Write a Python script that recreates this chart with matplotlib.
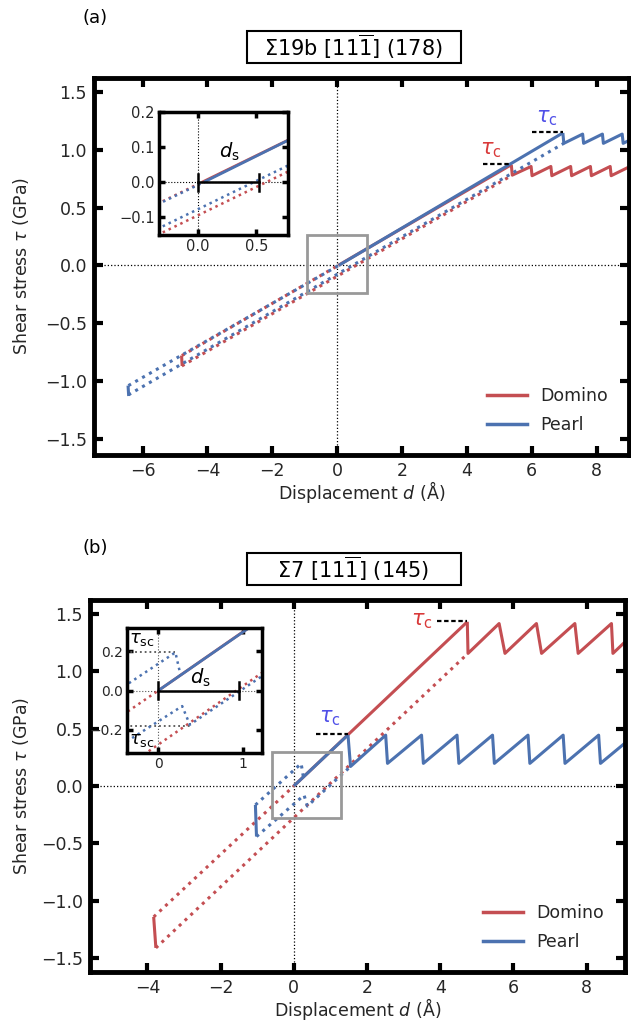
import matplotlib
matplotlib.use('Agg')
import matplotlib.pyplot as plt
from matplotlib.patches import Rectangle
from matplotlib.lines import Line2D

RED = '#C44E52'
BLUE = '#4C72B0'
TXT = '#262626'
LBL_RED = '#d93a3a'
LBL_BLUE = '#5050e8'

# ---------------- Panel (a): Sigma19b ----------------
a_dom_load_d = [0.035, 5.37]
a_dom_load_t = [0.0, 0.87]
a_dom_saw_d = [5.37, 5.40, 5.98, 6.01, 6.59, 6.62, 7.20, 7.23, 7.81, 7.84, 8.42, 8.45, 9.03, 9.06]
a_dom_saw_t = [0.87, 0.78, 0.855, 0.775, 0.855, 0.775, 0.855, 0.775, 0.855, 0.775, 0.855, 0.775, 0.855, 0.775]
a_dom_up_d = [-4.79, 0.035]
a_dom_up_t = [-0.78, 0.0]
a_dom_low_d = [-4.79, 5.40]
a_dom_low_t = [-0.87, 0.78]
a_dom_jump_d = [-4.80, -4.78]
a_dom_jump_t = [-0.78, -0.87]

a_prl_load_d = [0.05, 6.96]
a_prl_load_t = [0.0, 1.145]
a_prl_saw_d = [6.96, 6.99, 7.57, 7.60, 8.18, 8.21, 8.79, 8.82, 9.40]
a_prl_saw_t = [1.145, 1.055, 1.135, 1.055, 1.135, 1.055, 1.135, 1.055, 1.135]
a_prl_up_d = [-6.44, 0.05]
a_prl_up_t = [-1.04, 0.0]
a_prl_low_d = [-6.44, 6.99]
a_prl_low_t = [-1.12, 1.055]
a_prl_jump_d = [-6.45, -6.43]
a_prl_jump_t = [-1.04, -1.13]

a_tauc_dom = (4.5, 5.37, 0.875)
a_tauc_prl = (6.0, 6.96, 1.15)
a_ds = 0.52

# ---------------- Panel (b): Sigma7 ----------------
b_dom_load_d = [0.0, 4.74]
b_dom_load_t = [0.0, 1.43]
b_dom_saw_d = [4.74, 4.76, 5.61, 5.77, 6.63, 6.77, 7.68, 7.77, 8.68, 8.72, 9.10]
b_dom_saw_t = [1.43, 1.155, 1.415, 1.155, 1.415, 1.155, 1.415, 1.155, 1.415, 1.155, 1.27]
b_dom_up_d = [-3.83, 0.0]
b_dom_up_t = [-1.14, 0.0]
b_dom_low_d = [-3.77, 4.76]
b_dom_low_t = [-1.41, 1.155]
b_dom_jump_d = [-3.83, -3.77]
b_dom_jump_t = [-1.14, -1.41]

b_prl_load_d = [0.0, 1.48]
b_prl_load_t = [0.0, 0.445]
b_prl_saw_d = [1.48, 1.55, 2.51, 2.56, 3.49, 3.54, 4.46, 4.51, 5.43, 5.48, 6.40, 6.45, 7.36, 7.41, 8.33, 8.38, 9.30]
b_prl_saw_t = [0.445, 0.17, 0.443, 0.197, 0.443, 0.197, 0.443, 0.197, 0.443, 0.197, 0.443, 0.197, 0.443, 0.197, 0.443, 0.197, 0.44]
b_prl_up_d = [-1.05, 0.20, 0.26]
b_prl_up_t = [-0.165, 0.195, 0.08]
b_prl_low_d = [-1.02, 0.28, 0.37, 1.55]
b_prl_low_t = [-0.44, -0.08, -0.175, 0.17]
b_prl_jump_d = [-1.05, -1.02]
b_prl_jump_t = [-0.165, -0.44]

b_tauc_dom = (3.9, 4.74, 1.44)
b_tauc_prl = (0.6, 1.48, 0.45)
b_ds = 0.95
b_tausc_up = (0.20, 0.195)
b_tausc_low = (0.37, -0.18)

xticks_a = [-6, -4, -2, 0, 2, 4, 6, 8]
xticks_b = [-4, -2, 0, 2, 4, 6, 8]
yticks = [-1.5, -1.0, -0.5, 0.0, 0.5, 1.0, 1.5]

W, H = 631, 1026
fig = plt.figure(figsize=(W / 100, H / 100), dpi=100)

DOT = (0, (1, 1.6))


def fx(px):
    return px / W


def fy(py):
    return 1 - py / H


def style_axes(ax, lw=3.5, tl=6.5, tw=3, fs=12.5, pad=5):
    for s in ax.spines.values():
        s.set_linewidth(lw)
        s.set_color('black')
    ax.tick_params(direction='in', length=tl, width=tw, top=True, right=True,
                   labelsize=fs, labelcolor=TXT, pad=pad, color='black')


def draw(ax, series, lw_solid=2.2, lw_dot=2.2):
    for (d, t, color, ls) in series:
        if ls == '-':
            ax.plot(d, t, color=color, lw=lw_solid, ls='-', solid_capstyle='butt')
        else:
            ax.plot(d, t, color=color, lw=lw_dot, ls=DOT, dash_capstyle='butt')


def series_a():
    return [
        (a_dom_up_d, a_dom_up_t, RED, ':'),
        (a_dom_low_d, a_dom_low_t, RED, ':'),
        (a_dom_jump_d, a_dom_jump_t, RED, '-'),
        (a_dom_load_d, a_dom_load_t, RED, '-'),
        (a_dom_saw_d, a_dom_saw_t, RED, '-'),
        (a_prl_up_d, a_prl_up_t, BLUE, ':'),
        (a_prl_low_d, a_prl_low_t, BLUE, ':'),
        (a_prl_jump_d, a_prl_jump_t, BLUE, '-'),
        (a_prl_load_d, a_prl_load_t, BLUE, '-'),
        (a_prl_saw_d, a_prl_saw_t, BLUE, '-'),
    ]


def series_b():
    return [
        (b_dom_up_d, b_dom_up_t, RED, ':'),
        (b_dom_low_d, b_dom_low_t, RED, ':'),
        (b_dom_jump_d, b_dom_jump_t, RED, '-'),
        (b_dom_load_d, b_dom_load_t, RED, '-'),
        (b_dom_saw_d, b_dom_saw_t, RED, '-'),
        (b_prl_up_d, b_prl_up_t, BLUE, ':'),
        (b_prl_low_d, b_prl_low_t, BLUE, ':'),
        (b_prl_jump_d, b_prl_jump_t, BLUE, '-'),
        (b_prl_load_d, b_prl_load_t, BLUE, '-'),
        (b_prl_saw_d, b_prl_saw_t, BLUE, '-'),
    ]


def main_panel(ax, series, xlim, ylim, xticks, rect, tauc_dom, tauc_prl, lab_dom, lab_prl,
               ylab_x):
    ax.axhline(0, color='black', lw=0.9, ls=':', zorder=0)
    ax.axvline(0, color='black', lw=0.9, ls=':', zorder=0)
    draw(ax, series)
    ax.add_patch(Rectangle((rect[0], rect[1]), rect[2], rect[3], fill=False,
                           ec='#999999', lw=2, zorder=5))
    ax.plot([tauc_dom[0], tauc_dom[1]], [tauc_dom[2]] * 2, color='black', ls='--', lw=1.6,
            dashes=(2, 1.2))
    ax.plot([tauc_prl[0], tauc_prl[1]], [tauc_prl[2]] * 2, color='black', ls='--', lw=1.6,
            dashes=(2, 1.2))
    ax.text(lab_dom[0], lab_dom[1], r'$\tau_{\rm c}$', color=LBL_RED, fontsize=15,
            ha='center', va='center')
    ax.text(lab_prl[0], lab_prl[1], r'$\tau_{\rm c}$', color=LBL_BLUE, fontsize=15,
            ha='center', va='center')
    ax.set_xlim(*xlim)
    ax.set_ylim(*ylim)
    ax.set_xticks(xticks)
    ax.set_yticks(yticks)
    ax.set_xlabel(r'Displacement $d$ (Å)', fontsize=12.5, color=TXT, labelpad=-1)
    ax.set_ylabel(r'Shear stress $\tau$ (GPa)', fontsize=12.5, color=TXT)
    ax.yaxis.set_label_coords(ylab_x, 0.5)
    style_axes(ax)
    handles = [Line2D([], [], color=RED, lw=2.5), Line2D([], [], color=BLUE, lw=2.5)]
    leg = ax.legend(handles, ['Domino', 'Pearl'], loc='lower right', frameon=False,
                    fontsize=12.5, handlelength=2.3, borderaxespad=0.8, labelspacing=0.65,
                    handletextpad=0.8)
    for t in leg.get_texts():
        t.set_color(TXT)


# ---------- Panel (a) ----------
axA = fig.add_axes([fx(94), fy(455), fx(629 - 94), (455 - 78) / H])
main_panel(axA, series_a(), (-7.5, 9.0), (-1.64, 1.62), xticks_a,
           (-0.92, -0.24, 1.84, 0.50), a_tauc_dom, a_tauc_prl, (4.75, 1.0), (6.47, 1.27),
           (31 - 94) / 535)

insA = fig.add_axes([fx(159), fy(235), 129 / W, 123 / H])
insA.axhline(0, color='black', lw=0.8, ls=':', zorder=0)
insA.axvline(0, color='black', lw=0.8, ls=':', zorder=0)
draw(insA, series_a(), lw_solid=2.0, lw_dot=1.8)
insA.plot([0, a_ds], [0, 0], color='black', lw=1.8)
insA.plot([0, 0], [-0.024, 0.024], color='black', lw=1.8)
insA.plot([a_ds, a_ds], [-0.024, 0.024], color='black', lw=1.8)
insA.text(0.27, 0.088, r'$d_{\rm s}$', fontsize=14, ha='center', va='center', color='black')
insA.set_xlim(-0.33, 0.77)
insA.set_ylim(-0.15, 0.2)
insA.set_xticks([0.0, 0.5])
insA.set_yticks([-0.1, 0.0, 0.1, 0.2])
style_axes(insA, lw=2.5, tl=4, tw=2.5, fs=10.5, pad=3)

# ---------- Panel (b) ----------
axB = fig.add_axes([fx(90), fy(972), fx(625 - 90), (972 - 600) / H])
main_panel(axB, series_b(), (-5.57, 9.05), (-1.62, 1.62), xticks_b,
           (-0.6, -0.28, 1.9, 0.58), b_tauc_dom, b_tauc_prl, (3.5, 1.44), (0.98, 0.59),
           (31 - 90) / 535)

insB = fig.add_axes([fx(127), fy(753), 135 / W, 125 / H])
insB.axhline(0, color='#555555', lw=0.8, ls=':', zorder=0)
insB.axvline(0, color='#555555', lw=0.8, ls=':', zorder=0)
insB.plot([-0.5, b_tausc_up[0]], [b_tausc_up[1]] * 2, color='#555555', lw=1.3, ls=':')
insB.plot([-0.5, b_tausc_low[0]], [b_tausc_low[1]] * 2, color='#555555', lw=1.3, ls=':')
draw(insB, series_b(), lw_solid=2.0, lw_dot=1.8)
insB.plot([0, b_ds], [0, 0], color='black', lw=1.8)
insB.plot([0, 0], [-0.045, 0.045], color='black', lw=1.8)
insB.plot([b_ds, b_ds], [-0.045, 0.045], color='black', lw=1.8)
insB.text(0.5, 0.065, r'$d_{\rm s}$', fontsize=14, ha='center', va='center', color='black')
insB.text(-0.19, 0.265, r'$\tau_{\rm sc}$', fontsize=13, ha='center', va='center', color='black')
insB.text(-0.19, -0.255, r'$\tau_{\rm sc}$', fontsize=13, ha='center', va='center', color='black')
insB.set_xlim(-0.37, 1.22)
insB.set_ylim(-0.32, 0.32)
insB.set_xticks([0, 1])
insB.set_yticks([-0.2, 0.0, 0.2])
style_axes(insB, lw=2.5, tl=4, tw=2.5, fs=10, pad=3)

# ---------- Titles and panel labels ----------
for (ybox_top, ybox_bot, ytxt, title) in [
    (31, 63, 47, r'Σ19b [11$\overline{1}$] (178)'),
    (553, 585, 569, r'Σ7 [11$\overline{1}$] (145)'),
]:
    fig.patches.append(Rectangle((fx(247), fy(ybox_bot)), 214 / W, (ybox_bot - ybox_top) / H,
                                 transform=fig.transFigure, fill=False, ec='black', lw=1.5))
    fig.text(fx(353), fy(ytxt), title, ha='center', va='center', fontsize=15, color='black')

fig.text(fx(95), fy(18), '(a)', ha='center', va='center', fontsize=13, color='black')
fig.text(fx(95), fy(548), '(b)', ha='center', va='center', fontsize=13, color='black')

fig.savefig('out.png', dpi=100)
